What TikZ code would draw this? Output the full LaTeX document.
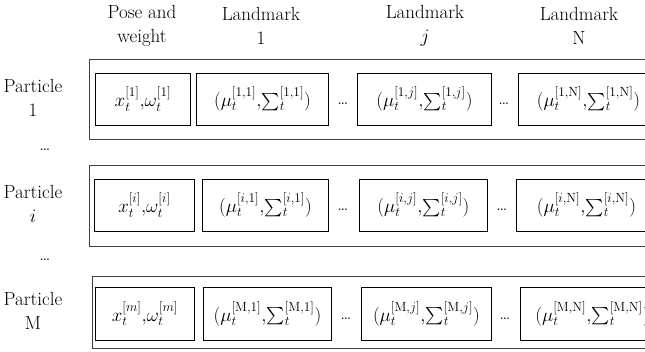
\RequirePackage{fix-cm}
\documentclass[tikz,border=0pt]{standalone}
\usepackage{amsmath}
\usepackage{fontspec}
\newcommand{\msum}{\mathord{\sum}}
\begin{document}
\begin{tikzpicture}[x=1pt, y=-1pt,
    every node/.style={font=\fontsize{19}{24}\selectfont},
    cell/.style={draw, line width=0.9pt, minimum height=52pt, inner sep=0pt, anchor=west},
    row/.style={draw=black!75, line width=1.2pt, minimum width=620pt, inner sep=0pt, anchor=north west},
    lbl/.style={align=center, inner sep=0pt}]
  \useasboundingbox (0,0) rectangle (645,351);
  \clip (0,0) rectangle (645,351);

  % column heads
  \node[lbl] (hpose) at (142,26) {Pose and\\weight};
  \node[lbl] (hlm1) at (261,26) {Landmark\\1};
  \node[lbl] (hlmj) at (425,26) {Landmark\\$j$};
  \node[lbl] (hlmn) at (579,26) {Landmark\\N};

  % particle 1
  \node[row, minimum height=80pt] (r1) at (89,59) {};
  \node[lbl] (p1) at (33,98) {Particle\\1};
  \node[cell, minimum width=95pt] (a1) at (95,99) {$x_t^{[1]}{,}\omega_t^{[1]}$};
  \node[cell, minimum width=132pt] (b1) at (196,99) {$(\mu_t^{[1,1]}{,}\msum_t^{[1,1]})$};
  \node[cell, minimum width=134pt] (c1) at (357,99) {$(\mu_t^{[1,j]}{,}\msum_t^{[1,j]})$};
  \node[cell, minimum width=140pt] (d1) at (518,99) {$(\mu_t^{[1,\mathrm{N}]}{,}\msum_t^{[1,\mathrm{N}]})$\hspace{16pt}};
  \node (e11) at (343,104) {\dots};
  \node (e12) at (504,104) {\dots};

  \node (v1) at (45,150) {\dots};

  % particle i
  \node[row, minimum height=81pt] (ri) at (89,165) {};
  \node[lbl] (pi) at (33,204) {Particle\\$i$};
  \node[cell, minimum width=100pt] (ai) at (94,205) {$x_t^{[i]}{,}\omega_t^{[i]}$};
  \node[cell, minimum width=126pt] (bi) at (202,205) {$(\mu_t^{[i,1]}{,}\msum_t^{[i,1]})$};
  \node[cell, minimum width=128pt] (ci) at (359,205) {$(\mu_t^{[i,j]}{,}\msum_t^{[i,j]})$};
  \node[cell, minimum width=140pt] (di) at (516,205) {$(\mu_t^{[i,\mathrm{N}]}{,}\msum_t^{[i,\mathrm{N}]})$\hspace{16pt}};
  \node (ei1) at (343,210) {\dots};
  \node (ei2) at (502,210) {\dots};

  \node (v2) at (45,260) {\dots};

  % particle M
  \node[row, minimum height=72pt] (rm) at (92,276) {};
  \node[lbl] (pm) at (33,311) {Particle\\M};
  \node[cell, minimum width=99pt, minimum height=53pt] (am) at (95,313.5) {$x_t^{[m]}{,}\omega_t^{[m]}$};
  \node[cell, minimum width=128pt, minimum height=53pt] (bm) at (203,313.5) {$(\mu_t^{[\mathrm{M},1]}{,}\msum_t^{[\mathrm{M},1]})$};
  \node[cell, minimum width=130pt, minimum height=53pt] (cm) at (361,313.5) {$(\mu_t^{[\mathrm{M},j]}{,}\msum_t^{[\mathrm{M},j]})$};
  \node[cell, minimum width=140pt, minimum height=53pt] (dm) at (520,313.5) {\hspace{4pt}$(\mu_t^{[\mathrm{M},\mathrm{N}]}{,}\msum_t^{[\mathrm{M},\mathrm{N}]})$\hspace{10pt}};
  \node (em1) at (346,319) {\dots};
  \node (em2) at (505,319) {\dots};
\end{tikzpicture}
\end{document}
